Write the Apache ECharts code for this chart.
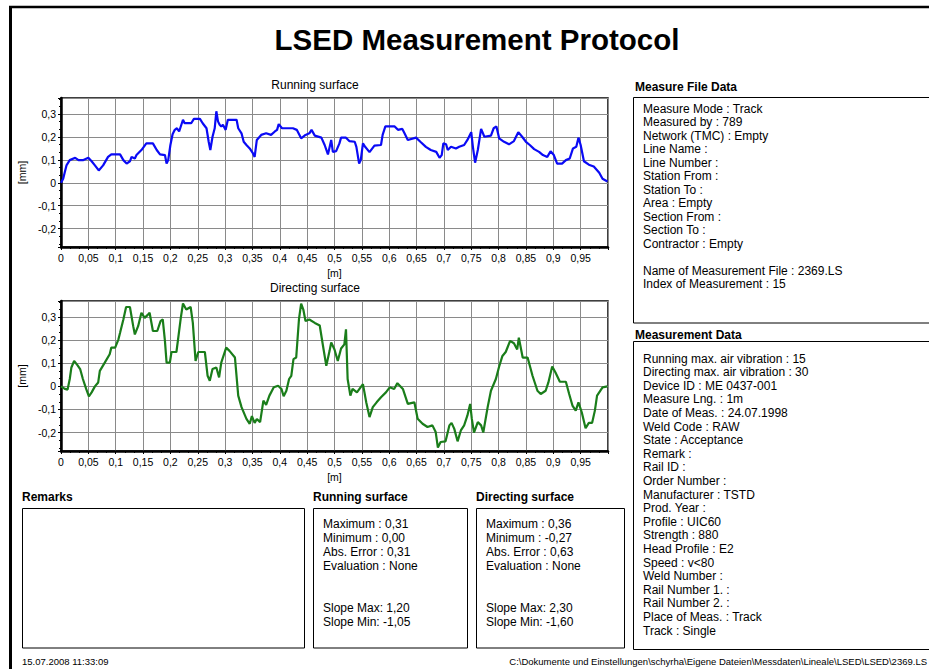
<!DOCTYPE html>
<html>
<head>
<meta charset="utf-8">
<script src="https://cdn.jsdelivr.net/npm/echarts@6/dist/echarts.min.js"></script>
<style>
html,body{margin:0;padding:0;background:#fff;}
#chart{width:929px;height:669px;}
</style>
</head>
<body>
<div id="chart"></div>
<script>
// ---- Data ----
const xRunning = [0,0.004,0.007,0.010,0.016,0.026,0.032,0.041,0.050,0.056,0.062,0.069,0.077,0.086,0.092,0.108,0.114,0.120,0.126,0.129,0.135,0.138,0.147,0.156,0.168,0.175,0.181,0.190,0.193,0.196,0.200,0.204,0.208,0.212,0.216,0.223,0.226,0.238,0.243,0.254,0.259,0.266,0.270,0.273,0.277,0.281,0.284,0.287,0.290,0.293,0.296,0.301,0.305,0.321,0.324,0.330,0.334,0.339,0.345,0.351,0.354,0.358,0.366,0.375,0.384,0.391,0.395,0.398,0.404,0.424,0.431,0.439,0.447,0.454,0.458,0.464,0.476,0.482,0.488,0.494,0.497,0.503,0.509,0.512,0.521,0.527,0.537,0.540,0.545,0.548,0.552,0.556,0.564,0.573,0.585,0.588,0.593,0.610,0.616,0.624,0.628,0.634,0.649,0.657,0.667,0.676,0.686,0.692,0.696,0.699,0.704,0.707,0.713,0.722,0.728,0.737,0.743,0.750,0.753,0.757,0.762,0.768,0.774,0.786,0.791,0.796,0.801,0.810,0.819,0.828,0.836,0.843,0.850,0.857,0.865,0.874,0.881,0.889,0.895,0.901,0.907,0.916,0.923,0.930,0.936,0.942,0.946,0.950,0.956,0.965,0.974,0.984,0.990,0.999];
const yRunning = [0,0.018,0.047,0.076,0.099,0.109,0.099,0.099,0.109,0.094,0.076,0.054,0.076,0.113,0.124,0.124,0.099,0.084,0.094,0.113,0.106,0.121,0.143,0.172,0.172,0.143,0.124,0.121,0.084,0.099,0.165,0.212,0.231,0.238,0.224,0.275,0.260,0.260,0.279,0.279,0.260,0.238,0.179,0.143,0.201,0.238,0.312,0.268,0.253,0.246,0.253,0.231,0.275,0.275,0.238,0.216,0.179,0.165,0.150,0.128,0.113,0.187,0.209,0.216,0.209,0.224,0.231,0.256,0.238,0.238,0.231,0.194,0.209,0.216,0.231,0.206,0.197,0.165,0.124,0.187,0.135,0.138,0.172,0.197,0.197,0.182,0.179,0.157,0.084,0.099,0.172,0.157,0.134,0.162,0.165,0.209,0.246,0.246,0.231,0.235,0.216,0.187,0.197,0.179,0.157,0.143,0.135,0.109,0.121,0.172,0.168,0.143,0.157,0.150,0.157,0.165,0.187,0.221,0.157,0.088,0.143,0.235,0.201,0.206,0.238,0.246,0.194,0.179,0.168,0.182,0.221,0.201,0.179,0.165,0.147,0.135,0.121,0.113,0.138,0.121,0.084,0.084,0.099,0.106,0.150,0.157,0.197,0.165,0.094,0.079,0.071,0.044,0.018,0.006];

const xDirecting = [0,0.007,0.012,0.016,0.019,0.024,0.030,0.035,0.040,0.046,0.051,0.056,0.062,0.068,0.071,0.080,0.089,0.092,0.099,0.105,0.108,0.114,0.119,0.126,0.132,0.135,0.141,0.147,0.153,0.159,0.162,0.168,0.176,0.182,0.186,0.190,0.193,0.199,0.202,0.211,0.214,0.219,0.223,0.229,0.237,0.241,0.246,0.251,0.263,0.268,0.272,0.277,0.284,0.289,0.293,0.302,0.308,0.318,0.324,0.330,0.339,0.345,0.349,0.354,0.358,0.364,0.370,0.375,0.381,0.389,0.397,0.403,0.407,0.412,0.417,0.421,0.425,0.430,0.435,0.439,0.443,0.447,0.454,0.464,0.473,0.479,0.485,0.491,0.494,0.500,0.506,0.512,0.518,0.521,0.524,0.529,0.533,0.541,0.552,0.558,0.564,0.570,0.577,0.585,0.594,0.601,0.609,0.615,0.625,0.634,0.646,0.652,0.661,0.670,0.679,0.685,0.689,0.694,0.703,0.710,0.714,0.719,0.725,0.731,0.737,0.743,0.748,0.751,0.755,0.762,0.768,0.772,0.780,0.786,0.795,0.801,0.807,0.813,0.821,0.828,0.834,0.837,0.844,0.853,0.862,0.871,0.877,0.886,0.891,0.898,0.904,0.912,0.923,0.929,0.935,0.941,0.946,0.952,0.959,0.965,0.971,0.976,0.980,0.990,0.999];
const yDirecting = [0,-0.011,-0.014,0.032,0.082,0.110,0.092,0.075,0.032,-0.011,-0.043,-0.026,0,0.017,0.067,0.103,0.139,0.168,0.168,0.204,0.232,0.290,0.344,0.344,0.261,0.225,0.261,0.319,0.297,0.311,0.319,0.240,0.240,0.283,0.290,0.197,0.103,0.103,0.149,0.149,0.204,0.297,0.359,0.333,0.344,0.275,0.110,0.149,0.149,0.046,0.024,0.075,0.082,0.039,0.103,0.168,0.154,0.125,-0.040,-0.090,-0.141,-0.162,-0.129,-0.158,-0.141,-0.155,-0.062,-0.080,-0.040,-0.004,0.003,-0.011,-0.043,-0.019,0.032,0.046,0.118,0.125,0.290,0.359,0.333,0.283,0.290,0.275,0.264,0.175,0.089,0.154,0.190,0.160,0.110,0.164,0.182,0.247,0.032,-0.040,-0.011,-0.026,0.010,-0.069,-0.133,-0.090,-0.069,-0.047,-0.026,-0.004,-0.011,0.014,-0.011,-0.076,-0.069,-0.140,-0.162,-0.176,-0.169,-0.198,-0.265,-0.241,-0.238,-0.169,-0.158,-0.184,-0.238,-0.191,-0.169,-0.126,-0.076,-0.140,-0.200,-0.155,-0.169,-0.200,-0.090,-0.019,0.032,0.086,0.132,0.149,0.197,0.187,0.160,0.211,0.125,0.125,0.046,-0.019,-0.033,-0.019,0.017,0.086,0.060,0.020,0.020,-0.033,-0.083,-0.105,-0.069,-0.112,-0.181,-0.158,-0.158,-0.105,-0.040,-0.004,0];

const pageTitle = 'LSED Measurement Protocol';
const chartTitles = ['Running surface', 'Directing surface'];
const measureFileLines = ['Measure Mode : Track','Measured by : 789','Network (TMC) : Empty','Line Name :','Line Number :','Station From :','Station To :','Area : Empty','Section From :','Section To :','Contractor : Empty','','Name of Measurement File : 2369.LS','Index of Measurement : 15'];
const measurementDataLines = ['Running max. air vibration : 15','Directing max. air vibration : 30','Device ID : ME 0437-001','Measure Lng. : 1m','Date of Meas. : 24.07.1998','Weld Code : RAW','State : Acceptance','Remark :','Rail ID :','Order Number :','Manufacturer : TSTD','Prod. Year :','Profile : UIC60','Strength : 880','Head Profile : E2','Speed : v<80','Weld Number :','Rail Number 1. :','Rail Number 2. :','Place of Meas. : Track','Track : Single'];
const runningStats = ['Maximum : 0,31','Minimum : 0,00','Abs. Error : 0,31','Evaluation : None','','','Slope Max: 1,20','Slope Min: -1,05'];
const directingStats = ['Maximum : 0,36','Minimum : -0,27','Abs. Error : 0,63','Evaluation : None','','','Slope Max: 2,30','Slope Min: -1,60'];
const footerDate = '15.07.2008 11:33:09';
const footerPath = 'C:\\Dokumente und Einstellungen\\schyrha\\Eigene Dateien\\Messdaten\\Lineale\\LSED\\LSED\\2369.LS';

// ---- Build ----
const FONT = '"Liberation Sans", Arial, sans-serif';
const zip = (xs, ys) => xs.map((x, i) => [x, ys[i]]);
const fmt = v => String(parseFloat(Number(v).toFixed(2))).replace('.', ',');

function textEl(t, x, y, size, bold, align) {
  return {
    type: 'text', silent: true,
    style: {
      text: t, x: x, y: y, fill: '#000',
      font: (bold ? 'bold ' : '') + size + 'px ' + FONT,
      textAlign: align || 'left', textVerticalAlign: 'middle'
    }
  };
}
function rectEl(x, y, w, h) {
  return { type: 'rect', silent: true, shape: { x: x, y: y, width: w, height: h },
    style: { fill: 'none', stroke: '#000', lineWidth: 1 } };
}
function lineEl(x1, y1, x2, y2, w) {
  return { type: 'line', silent: true, shape: { x1: x1, y1: y1, x2: x2, y2: y2 },
    style: { stroke: '#000', lineWidth: w } };
}

const graphics = [];
graphics.push(lineEl(10.5, 7, 10.5, 669, 3));
graphics.push(lineEl(9, 7, 929, 7, 2.5));
graphics.push(textEl(pageTitle, 477, 39, 29.5, true, 'center'));
graphics.push(textEl(chartTitles[0], 315, 85, 12, false, 'center'));
graphics.push(textEl(chartTitles[1], 315, 288, 12, false, 'center'));

graphics.push(textEl('Measure File Data', 635, 87, 12, true));
graphics.push(rectEl(633.5, 97.5, 320, 225.5));
measureFileLines.forEach((t, i) => { if (t) graphics.push(textEl(t, 643, 108.5 + i * 13.5, 12, false)); });

graphics.push(textEl('Measurement Data', 635, 335, 12, true));
graphics.push(rectEl(633.5, 341.5, 320, 308));
measurementDataLines.forEach((t, i) => { if (t) graphics.push(textEl(t, 643, 358.5 + i * 13.6, 12, false)); });

graphics.push(textEl('Remarks', 22, 497, 12, true));
graphics.push(rectEl(22.5, 508.5, 282, 139.5));
graphics.push(textEl('Running surface', 313, 497, 12, true));
graphics.push(rectEl(313.5, 508.5, 154, 139.5));
graphics.push(textEl('Directing surface', 476, 497, 12, true));
graphics.push(rectEl(476.5, 508.5, 148, 139.5));
runningStats.forEach((t, i) => { if (t) graphics.push(textEl(t, 323, 524 + i * 14, 12, false)); });
directingStats.forEach((t, i) => { if (t) graphics.push(textEl(t, 486, 524 + i * 14, 12, false)); });

graphics.push(textEl(footerDate, 22, 661, 9.5, false));
graphics.push(textEl(footerPath, 927, 661, 9.5, false, 'right'));

function xAxisCfg(gi) {
  return {
    type: 'value', gridIndex: gi, min: 0, max: 1, interval: 0.05,
    name: '[m]', nameLocation: 'middle', nameGap: 20,
    nameTextStyle: { color: '#000', fontSize: 10.5, fontFamily: FONT },
    axisLine: { show: true, onZero: false, lineStyle: { color: '#000', width: 2.5 } },
    axisTick: { show: true, length: 3, lineStyle: { color: '#000' } },
    minorTick: { show: true, splitNumber: 3, length: 2, lineStyle: { color: '#000' } },
    axisLabel: { color: '#000', fontSize: 10.5, fontFamily: FONT, margin: 5, showMaxLabel: false, formatter: fmt },
    splitLine: { show: true, lineStyle: { color: '#8a8a8a', width: 1 } }
  };
}
function yAxisCfg(gi) {
  return {
    type: 'value', gridIndex: gi, min: -0.28, max: 0.37,
    name: '[mm]', nameLocation: 'middle', nameGap: 28,
    nameTextStyle: { color: '#000', fontSize: 10.5, fontFamily: FONT },
    axisLine: { show: true, onZero: false, lineStyle: { color: '#000', width: 2.5 } },
    axisTick: { show: true, length: 3, lineStyle: { color: '#000' } },
    minorTick: { show: true, splitNumber: 3, length: 2, lineStyle: { color: '#000' } },
    axisLabel: { color: '#000', fontSize: 10.5, fontFamily: FONT, margin: 5, showMinLabel: false, showMaxLabel: false, formatter: fmt },
    splitLine: { show: true, lineStyle: { color: '#8a8a8a', width: 1 } }
  };
}

const chart = echarts.init(document.getElementById('chart'), null, { renderer: 'svg', width: 929, height: 669 });
chart.setOption({
  animation: false,
  backgroundColor: '#fff',
  grid: [
    { left: 61, top: 98, width: 547, height: 149, show: true, borderColor: '#000', borderWidth: 1.5, backgroundColor: '#fff', outerBoundsMode: 'none', containLabel: false },
    { left: 61, top: 301, width: 547, height: 150, show: true, borderColor: '#000', borderWidth: 1.5, backgroundColor: '#fff', outerBoundsMode: 'none', containLabel: false }
  ],
  xAxis: [xAxisCfg(0), xAxisCfg(1)],
  yAxis: [yAxisCfg(0), yAxisCfg(1)],
  series: [
    { type: 'line', name: chartTitles[0], xAxisIndex: 0, yAxisIndex: 0, data: zip(xRunning, yRunning),
      showSymbol: false, lineStyle: { color: '#0a0af5', width: 2.2 }, itemStyle: { color: '#0a0af5' } },
    { type: 'line', name: chartTitles[1], xAxisIndex: 1, yAxisIndex: 1, data: zip(xDirecting, yDirecting),
      showSymbol: false, lineStyle: { color: '#1a7d1a', width: 2.2 }, itemStyle: { color: '#1a7d1a' } }
  ],
  graphic: graphics
});
</script>
</body>
</html>
